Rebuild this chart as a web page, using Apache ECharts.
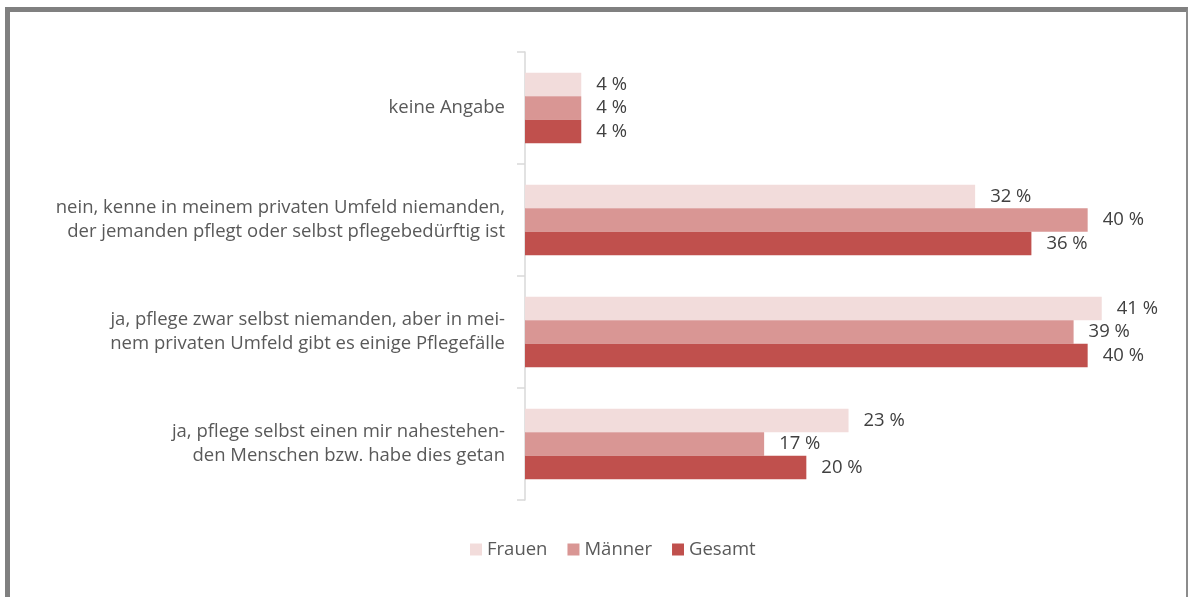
<!DOCTYPE html>
<html>
<head>
<meta charset="utf-8">
<script src="https://cdn.jsdelivr.net/npm/echarts@6/dist/echarts.min.js"></script>
<style>
html,body{margin:0;padding:0;background:#fff;}
#frame{position:absolute;left:5px;top:7px;width:1183px;height:600px;border-left:5px solid #808080;border-top:5px solid #808080;border-right:2px solid #8c8c8c;box-sizing:border-box;}
#chart{position:absolute;left:0;top:0;width:1192px;height:597px;}
</style>
</head>
<body>
<div id="frame"></div>
<div id="chart"></div>
<script>
const categories = [
  "keine Angabe",
  "nein, kenne in meinem privaten Umfeld niemanden,\nder jemanden pflegt oder selbst pflegebedürftig ist",
  "ja, pflege zwar selbst niemanden, aber in mei-\nnem privaten Umfeld gibt es einige Pflegefälle",
  "ja, pflege selbst einen mir nahestehen-\nden Menschen bzw. habe dies getan"
];
const frauen = [4, 32, 41, 23];
const maenner = [4, 40, 39, 17];
const gesamt = [4, 36, 40, 20];
const seriesNames = ["Frauen", "Männer", "Gesamt"];
const colors = ["#F2DCDB", "#D99694", "#C0504D"];

const FONT = "Open Sans";
const chart = echarts.init(document.getElementById('chart'), null, {renderer: 'canvas'});
const mk = (name, data, color) => ({
  name, type: 'bar', data,
  barGap: '0%', barCategoryGap: '37%',
  itemStyle: {color},
  label: {show: true, position: 'right', distance: 15, formatter: p => p.value + ' %',
          color: '#404040', fontSize: 18.5, fontFamily: FONT}
});
chart.setOption({
  animation: false,
  textStyle: {fontFamily: FONT},
  grid: {left: 525, top: 52, right: 34, bottom: 97, containLabel: false},
  xAxis: {type: 'value', min: 0, max: 45, show: false},
  yAxis: {
    type: 'category', data: categories, inverse: true,
    axisLine: {show: true, lineStyle: {color: '#d9d9d9', width: 1.5}},
    axisTick: {show: true, length: 8, alignWithLabel: false, lineStyle: {color: '#d9d9d9', width: 1.5}},
    axisLabel: {margin: 20, color: '#595959', fontSize: 18.5, lineHeight: 24, fontFamily: FONT, align: 'right'}
  },
  legend: {
    data: seriesNames, bottom: 33, left: 465,
    itemWidth: 12, itemHeight: 12, itemGap: 20,
    icon: 'rect',
    textStyle: {color: '#595959', fontSize: 18.5, fontFamily: FONT}
  },
  series: [mk(seriesNames[0], frauen, colors[0]), mk(seriesNames[1], maenner, colors[1]), mk(seriesNames[2], gesamt, colors[2])]
});
</script>
</body>
</html>
